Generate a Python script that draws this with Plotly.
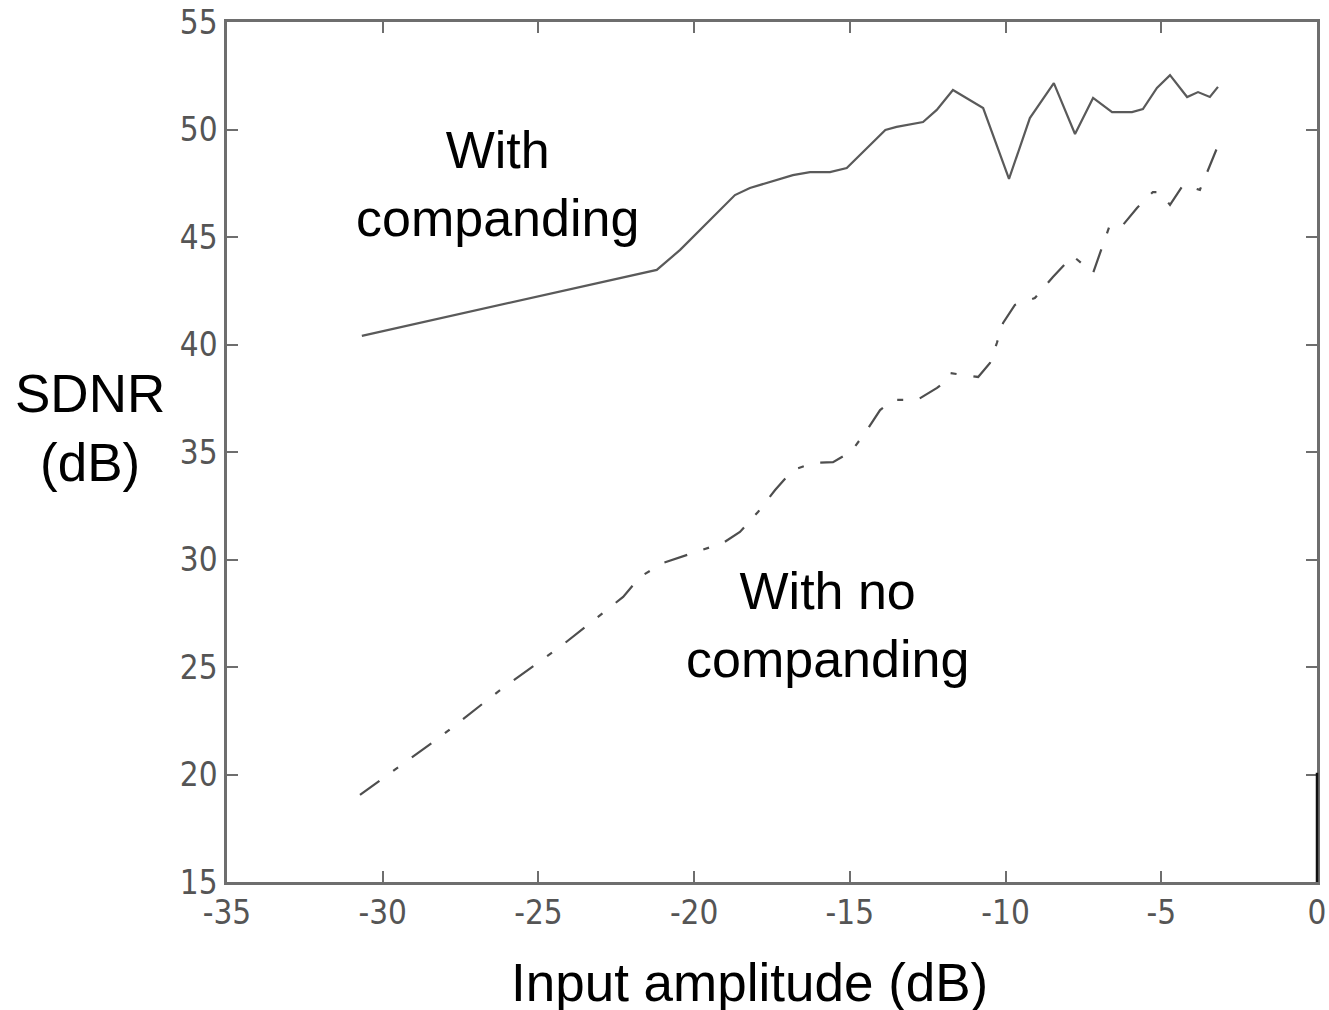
import plotly.graph_objects as go

# SDNR versus input amplitude, with and without companding
amp_comp = [-30.67, -21.20, -20.45, -19.88, -18.69, -18.21, -16.83, -16.28, -15.64, -15.10,
            -13.86, -13.50, -12.65, -12.21, -11.69, -10.72, -9.89, -9.22, -8.45, -7.77,
            -7.19, -6.58, -5.94, -5.59, -5.14, -4.72, -4.17, -3.82, -3.44, -3.18]
sdnr_comp = [40.40, 43.47, 44.40, 45.23, 46.95, 47.28, 47.88, 48.02, 48.02, 48.21,
             49.98, 50.12, 50.35, 50.91, 51.84, 51.00, 47.70, 50.53, 52.16, 49.79,
             51.47, 50.81, 50.81, 50.95, 51.93, 52.53, 51.51, 51.74, 51.51, 51.98]

amp_nocomp = [-30.73, -28.16, -26.23, -24.31, -22.28, -21.74, -21.00, -19.75, -19.07, -18.53,
              -17.95, -17.40, -16.83, -16.18, -15.54, -14.97, -14.49, -14.03, -13.61, -12.84,
              -12.20, -11.88, -11.78, -10.88, -10.50, -10.28, -10.08, -9.70, -9.06, -8.48,
              -7.84, -7.19, -6.97, -6.65, -6.23, -5.78, -5.27, -5.04, -4.72, -4.30,
              -3.76, -3.50, -3.21]
sdnr_nocomp = [19.05, 21.74, 23.93, 25.93, 28.26, 29.19, 29.84, 30.44, 30.77, 31.28,
               32.21, 33.23, 34.16, 34.49, 34.53, 35.00, 35.93, 36.95, 37.42, 37.42,
               37.98, 38.35, 38.67, 38.49, 39.14, 40.07, 41.00, 41.84, 42.16, 43.14,
               44.12, 43.33, 44.26, 45.56, 45.56, 46.35, 47.09, 47.09, 46.49, 47.42,
               47.19, 48.12, 49.14]

x_ticks = [-35, -30, -25, -20, -15, -10, -5, 0]
y_ticks = [15, 20, 25, 30, 35, 40, 45, 50, 55]

label_font = "Liberation Sans, Arial, sans-serif"
tick_font = "Liberation Sans Narrow, Arial Narrow, DejaVu Sans Condensed, sans-serif"
axis_gray = "#6e6e6e"

fig = go.Figure()
fig.add_trace(go.Scatter(x=amp_comp, y=sdnr_comp, mode="lines",
                         line=dict(color="#5a5a5a", width=2.2), showlegend=False))
fig.add_trace(go.Scatter(x=amp_nocomp, y=sdnr_nocomp, mode="lines",
                         line=dict(color="#4e4e4e", width=2.2, dash="24px,17px,6px,17px"),
                         showlegend=False))

axis_common = dict(showgrid=False, zeroline=False, showline=True, linecolor=axis_gray,
                   linewidth=2.5, mirror="allticks", ticks="inside", ticklen=11,
                   tickwidth=2, tickcolor=axis_gray, automargin=False,
                   tickfont=dict(family=tick_font, size=33, color="#555555"))

fig.update_xaxes(range=[-35, 0], tickmode="array", tickvals=x_ticks,
                 ticktext=[str(v) for v in x_ticks], **axis_common)
fig.update_yaxes(range=[15, 55], tickmode="array", tickvals=y_ticks,
                 ticktext=[str(v) for v in y_ticks], **axis_common)

fig.add_annotation(x=-26.33, y=47.45, xref="x", yref="y", text="With<br>companding",
                   showarrow=False, xanchor="center", yanchor="middle",
                   font=dict(family=label_font, size=52, color="black"))
fig.add_annotation(x=-15.73, y=26.95, xref="x", yref="y", text="With no<br>companding",
                   showarrow=False, xanchor="center", yanchor="middle",
                   font=dict(family=label_font, size=52, color="black"))
fig.add_annotation(x=0.479, y=-0.1163, xref="paper", yref="paper", text="Input amplitude (dB)",
                   showarrow=False, xanchor="center", yanchor="middle", height=56,
                   valign="middle",
                   font=dict(family=label_font, size=53, color="black"))
fig.add_annotation(x=-0.1257, y=0.528, xref="paper", yref="paper", text="SDNR<br>(dB)",
                   showarrow=False, xanchor="center", yanchor="middle",
                   font=dict(family=label_font, size=53, color="black"))

# darker stretch along the lower part of the right frame edge
fig.add_shape(type="line", xref="paper", yref="paper", x0=1, x1=1, y0=0, y1=0.127,
              line=dict(color="#111111", width=2.5))

fig.update_layout(width=1329, height=1010, autosize=False,
                  margin=dict(l=227, r=12, t=22, b=128, autoexpand=False),
                  plot_bgcolor="white", paper_bgcolor="white")

fig.write_html("out.html")
